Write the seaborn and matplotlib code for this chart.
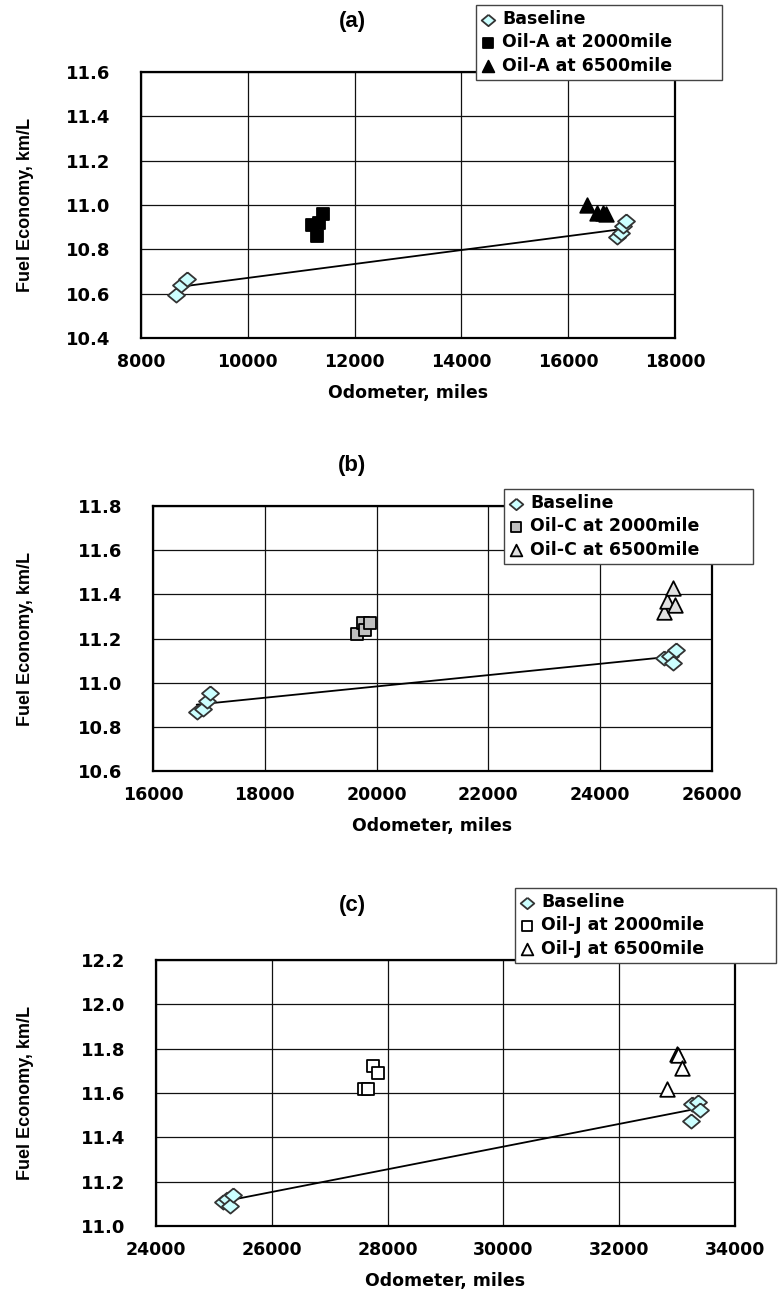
import matplotlib
matplotlib.use("Agg")
import matplotlib.pyplot as plt
import matplotlib.transforms as mtransforms
import seaborn as sns
import numpy as np

# ---------------- data ----------------
a_base_x = [8664, 8758, 8870, 16920, 16980, 17030, 17075]
a_base_y = [10.595, 10.637, 10.666, 10.855, 10.873, 10.905, 10.93]
a_2000_x = [11409, 11334, 11208, 11291]
a_2000_y = [10.958, 10.918, 10.909, 10.858]
a_6500_x = [16356, 16544, 16650, 16700]
a_6500_y = [11.0, 10.963, 10.963, 10.960]

b_base_x = [16782, 16889, 16961, 17020, 25150, 25250, 25300, 25350]
b_base_y = [10.866, 10.881, 10.918, 10.952, 11.11, 11.12, 11.09, 11.15]
b_2000_x = [19650, 19750, 19800, 19880]
b_2000_y = [11.22, 11.27, 11.24, 11.27]
b_6500_x = [25150, 25200, 25300, 25330]
b_6500_y = [11.32, 11.37, 11.43, 11.35]

c_base_x = [25150, 25230, 25270, 25330, 33240, 33250, 33360, 33400]
c_base_y = [11.11, 11.12, 11.09, 11.14, 11.475, 11.55, 11.56, 11.525]
c_2000_x = [27600, 27670, 27740, 27830]
c_2000_y = [11.62, 11.62, 11.72, 11.69]
c_6500_x = [32820, 32990, 33020, 33090]
c_6500_y = [11.62, 11.775, 11.77, 11.715]

titles = ["(a)", "(b)", "(c)"]
oils = ["Oil-A", "Oil-C", "Oil-J"]
x_ranges = [(8000, 18000), (16000, 26000), (24000, 34000)]
y_ranges = [(10.4, 11.6), (10.6, 11.8), (11.0, 12.2)]
y_ticks = [[10.4, 10.6, 10.8, 11.0, 11.2, 11.4, 11.6],
           [10.6, 10.8, 11.0, 11.2, 11.4, 11.6, 11.8],
           [11.0, 11.2, 11.4, 11.6, 11.8, 12.0, 12.2]]

# ---------------- style ----------------
sns.set_style("white")
plt.rcParams["font.family"] = ["DejaVu Sans"]
plt.rcParams["text.color"] = "black"
plt.rcParams["axes.labelcolor"] = "black"
plt.rcParams["xtick.color"] = "black"
plt.rcParams["ytick.color"] = "black"

W, H = 781, 1301
fig = plt.figure(figsize=(W / 100, H / 100), dpi=100)

# axes pixel boxes: left, right, top, bottom
boxes = [(141, 675, 72, 338), (153, 712, 506, 771), (156, 735, 960, 1226)]
# legend boxes: left, right, top
legend_pos = [(476, 722, 5), (504, 753, 489), (515, 776, 888)]
title_pos = [(352, 22), (352, 465), (352, 905)]

# slightly wide diamond like the original Excel marker
diamond = [(0, 1), (1.2, 0), (0, -1), (-1.2, 0), (0, 1)]

base_sets = [(a_base_x, a_base_y), (b_base_x, b_base_y), (c_base_x, c_base_y)]
s2000_sets = [(a_2000_x, a_2000_y), (b_2000_x, b_2000_y), (c_2000_x, c_2000_y)]
s6500_sets = [(a_6500_x, a_6500_y), (b_6500_x, b_6500_y), (c_6500_x, c_6500_y)]
sq_face = ["black", "#C0C0C0", "white"]
tri_face = ["black", "#E0E0E0", "white"]

for i in range(3):
    l, r, t, b = boxes[i]
    ax = fig.add_axes([l / W, 1 - b / H, (r - l) / W, (b - t) / H])
    bx, by = base_sets[i]
    sns.regplot(x=bx, y=by, ax=ax, ci=None, scatter=False,
                line_kws=dict(color="black", lw=1.3, zorder=2))
    sns.scatterplot(x=bx, y=by, ax=ax, marker=diamond, s=150, color="#CCFFFF",
                    edgecolor="#333333", linewidth=1.3, label="Baseline", zorder=3)
    sx, sy = s2000_sets[i]
    sns.scatterplot(x=sx, y=sy, ax=ax, marker="s", s=80, color=sq_face[i],
                    edgecolor="black", linewidth=1.3,
                    label=f"{oils[i]} at 2000mile", zorder=3)
    tx, ty = s6500_sets[i]
    sns.scatterplot(x=tx, y=ty, ax=ax, marker="^", s=110, color=tri_face[i],
                    edgecolor="black", linewidth=1.3,
                    label=f"{oils[i]} at 6500mile", zorder=3)

    ax.set_xlim(*x_ranges[i])
    ax.set_ylim(*y_ranges[i])
    ax.set_xticks(np.arange(x_ranges[i][0], x_ranges[i][1] + 1, 2000))
    ax.set_yticks(y_ticks[i])
    ax.set_yticklabels([f"{v:.1f}" for v in y_ticks[i]])
    ax.grid(True, color="#111111", lw=0.9)
    ax.set_axisbelow(True)
    for sp in ax.spines.values():
        sp.set_color("black")
        sp.set_linewidth(1.6)
    ax.tick_params(axis="x", length=0, pad=11, labelsize=12.5)
    ax.tick_params(axis="y", length=0, pad=22, labelsize=13)
    for lab in ax.get_xticklabels() + ax.get_yticklabels():
        lab.set_fontweight("bold")
    ax.set_xlabel("Odometer, miles", fontsize=12.5, fontweight="bold", labelpad=9)
    ax.set_ylabel("Fuel Economy, km/L", fontsize=13, fontweight="bold",
                  family="Liberation Sans")
    tr = mtransforms.blended_transform_factory(fig.transFigure, ax.transAxes)
    ax.yaxis.set_label_coords(34 / W, 0.5, transform=tr)

    lx0, lx1, ly = legend_pos[i]
    leg = ax.legend(loc="upper left",
                    bbox_to_anchor=(lx0 / W, 1 - ly / H, (lx1 - lx0) / W, 0),
                    bbox_transform=fig.transFigure, mode="expand",
                    frameon=True, fancybox=False,
                    edgecolor="#444444", framealpha=1, borderpad=0.3,
                    labelspacing=0.3, handlelength=0.8, handletextpad=0.4,
                    borderaxespad=0, markerscale=0.8,
                    prop=dict(size=12.5, weight="bold"))
    leg.get_frame().set_linewidth(1.0)

    tx0, ty0 = title_pos[i]
    fig.text(tx0 / W, 1 - ty0 / H, titles[i], ha="center", va="center",
             fontsize=16, fontweight="bold", family="Liberation Sans")

fig.savefig("out.png", dpi=100)
